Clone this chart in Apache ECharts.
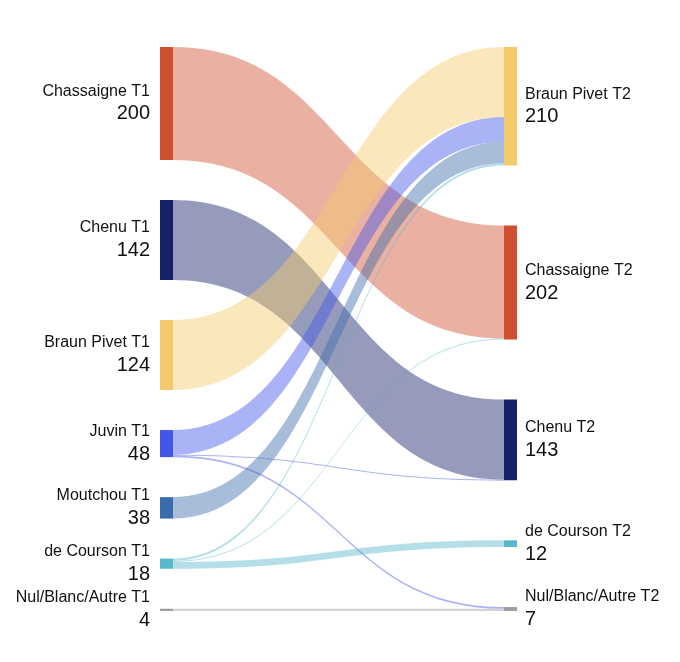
<!DOCTYPE html>
<html>
<head>
<meta charset="utf-8">
<script src="https://cdn.jsdelivr.net/npm/echarts@6/dist/echarts.min.js"></script>
<style>
html,body{margin:0;padding:0;background:#fff;}
#chart{width:680px;height:662px;}
</style>
</head>
<body>
<div id="chart"></div>
<script>
// ---- data ----
const leftNames = ['Chassaigne T1','Chenu T1','Braun Pivet T1','Juvin T1','Moutchou T1','de Courson T1','Nul/Blanc/Autre T1'];
const leftValues = [200,142,124,48,38,18,4];
const rightNames = ['Braun Pivet T2','Chassaigne T2','Chenu T2','de Courson T2','Nul/Blanc/Autre T2'];
const rightValues = [210,202,143,12,7];
const linkSources = ['Chassaigne T1','Chenu T1','Braun Pivet T1','Juvin T1','Juvin T1','Juvin T1','Moutchou T1','de Courson T1','de Courson T1','de Courson T1','Nul/Blanc/Autre T1'];
const linkTargets = ['Chassaigne T2','Chenu T2','Braun Pivet T2','Braun Pivet T2','Chenu T2','Nul/Blanc/Autre T2','Braun Pivet T2','Braun Pivet T2','Chassaigne T2','de Courson T2','Nul/Blanc/Autre T2'];
const linkValues = [200,142,124,44,1,3,38,4,2,12,4];

// ---- styles ----
const leftColors = ['#d04f30','#16216a','#f4cb6b','#4257e8','#3b6cae','#58b9cc','#9e9e9e'];
const rightColors = ['#f4cb6b','#d04f30','#16216a','#58b9cc','#9e9e9e'];

const W = 680, H = 662;
const sTop = 47, sBottom = 51, sLeft = 160, sRight = 163;
const seriesH = H - sTop - sBottom;
const nodeGap = 40;

// node layout: spread each column evenly over the series height (justified)
const cols = [leftValues, rightValues];
const totals = cols.map(c => c.reduce((a,b)=>a+b,0));
const ky = Math.min.apply(null, cols.map((c,i) => (seriesH - (c.length-1)*nodeGap)/totals[i]));
function columnTops(vals){
  const used = vals.reduce((a,b)=>a+b,0)*ky;
  const gap = (seriesH - used)/(vals.length-1);
  const tops = []; let y = 0;
  vals.forEach(v => { tops.push(y / seriesH); y += v*ky + gap; });
  return tops;
}
const leftTops = columnTops(leftValues);
const rightTops = columnTops(rightValues);

const richStyle = {
  n: {fontSize: 16, lineHeight: 21, color: '#111', fontFamily: 'Liberation Sans, Arial, sans-serif'},
  v: {fontSize: 20, lineHeight: 24, color: '#111', fontFamily: 'Liberation Sans, Arial, sans-serif'}
};

const nodes = [];
leftNames.forEach((n,i) => nodes.push({
  name: n, value: leftValues[i], localY: leftTops[i],
  itemStyle: {color: leftColors[i]},
  label: {position: 'left', distance: 10, align: 'right'}
}));
rightNames.forEach((n,i) => nodes.push({
  name: n, value: rightValues[i], localY: rightTops[i],
  itemStyle: {color: rightColors[i]},
  label: {position: 'right', distance: 8, align: 'left'}
}));
const links = linkSources.map((s,i) => ({source: s, target: linkTargets[i], value: linkValues[i]}));

const chart = echarts.init(document.getElementById('chart'), null, {renderer: 'canvas'});
chart.setOption({
  animation: false,
  backgroundColor: '#fff',
  series: [{
    type: 'sankey',
    left: sLeft, right: sRight, top: sTop, bottom: sBottom,
    nodeWidth: 13,
    nodeGap: nodeGap,
    layoutIterations: 0,
    draggable: false,
    emphasis: {disabled: true},
    data: nodes,
    links: links,
    lineStyle: {color: 'source', opacity: 0.45, curveness: 0.5},
    itemStyle: {borderWidth: 0},
    label: {
      show: true,
      formatter: '{n|{b}}\n{v|{c}}',
      rich: richStyle
    }
  }]
});
</script>
</body>
</html>
